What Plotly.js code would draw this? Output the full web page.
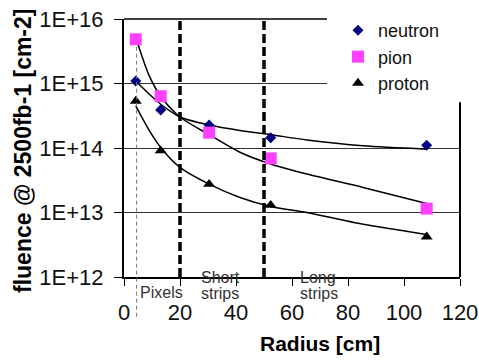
<!DOCTYPE html>
<html>
<head>
<meta charset="utf-8">
<script src="https://cdn.plot.ly/plotly-3.0.1.min.js"></script>
<style>html,body{margin:0;padding:0;background:#fff;}#chart{width:479px;height:362px;}</style>
</head>
<body>
<div id="chart"></div>
<script>
// measured data points
const radius = [4.2, 13.1, 30.4, 52.4, 108.1];
const neutron = [1.09e15, 3.9e14, 2.27e14, 1.44e14, 1.1e14];
const pion = [4.85e15, 6.35e14, 1.73e14, 6.9e13, 1.15e13];
const proton = [5.35e14, 9.1e13, 2.75e13, 1.3e13, 4.2e12];

// trend curves
const fitRadius = [4.2, 8.9, 13.1, 20, 30.4, 41.4, 52.4, 65.3, 85.4, 108.1];
const neutronFit = [1.09e15, 6.9e14, 4.77e14, 3.02e14, 2.27e14, 1.87e14, 1.61e14, 1.33e14, 1.08e14, 9.6e13];
const pionFit = [5.2e15, 1.35e15, 6.35e14, 3.02e14, 1.61e14, 8.6e13, 5.64e13, 3.94e13, 2.45e13, 1.38e13];
const protonFit = [4.5e14, 1.91e14, 1.02e14, 5.0e13, 2.75e13, 1.71e13, 1.24e13, 1.0e13, 6.55e12, 4.57e12];

// axis ticks
const xTicks = [0, 20, 40, 60, 80, 100, 120];
const yTickVals = [1e12, 1e13, 1e14, 1e15, 1e16];
const yTickText = ['1E+12', '1E+13', '1E+14', '1E+15', '1E+16'];

// region boundaries and labels
const regionBounds = [20, 50];
const innerRadius = 4.5;

const FONT = '"Liberation Sans", Arial, sans-serif';
const L = 124, R = 19, T = 17, B = 85, W = 479, H = 362;
const pw = W - L - R, ph = H - T - B;
const px = v => (v - L) / pw;          // pixel x -> paper
const py = v => (H - B - v) / ph;      // pixel y -> paper

const curveLine = {color: '#000', width: 1.5, shape: 'spline', smoothing: 0.8};
const traces = [
  {x: fitRadius, y: neutronFit, mode: 'lines', line: curveLine, showlegend: false, hoverinfo: 'skip'},
  {x: fitRadius, y: pionFit, mode: 'lines', line: curveLine, showlegend: false, hoverinfo: 'skip'},
  {x: fitRadius, y: protonFit, mode: 'lines', line: curveLine, showlegend: false, hoverinfo: 'skip'},
  {x: radius, y: neutron, name: 'neutron', mode: 'markers', marker: {symbol: 'diamond', size: 8.5, color: '#000080'}},
  {x: radius, y: pion, name: 'pion', mode: 'markers', marker: {symbol: 'square', size: 12, color: '#ff40ff'}},
  {x: radius, y: proton, name: 'proton', mode: 'markers', marker: {symbol: 'triangle-up', size: 10.5, color: '#000'}}
];

const shapes = [
  // cover under legend
  {type: 'rect', xref: 'paper', yref: 'paper', x0: px(327), x1: px(485), y0: py(101), y1: py(-5), fillcolor: '#fff', line: {width: 0}, layer: 'above'},
  // top frame
  {type: 'line', xref: 'paper', yref: 'paper', x0: 0, x1: px(327), y0: 1, y1: 1, line: {color: '#000', width: 1.5}},
  // right frame
  {type: 'line', xref: 'paper', yref: 'paper', x0: 1, x1: 1, y0: 0, y1: py(101), line: {color: '#000', width: 2}},
  // thin dashed at inner radius
  {type: 'line', xref: 'x', yref: 'paper', x0: innerRadius, x1: innerRadius, y0: py(317), y1: py(45), line: {color: '#777', width: 1, dash: '4px,3px'}}
];
regionBounds.forEach(b => shapes.push({type: 'line', xref: 'x', yref: 'paper', x0: b, x1: b, y0: 0, y1: 1,
  line: {color: '#000', width: 3.5, dash: '9px,4px'}}));

const lblFont = {family: FONT, size: 16, color: '#333'};
const annotations = [
  {text: 'Radius [cm]', xref: 'paper', yref: 'paper', x: px(320), y: py(344), xanchor: 'center', yanchor: 'middle', showarrow: false,
   font: {family: FONT, size: 21, color: '#000', weight: 'bold'}},
  {text: 'fluence @ 2500fb-1 [cm-2]', xref: 'paper', yref: 'paper', x: px(23), y: py(150), xanchor: 'center', yanchor: 'middle', textangle: -90, showarrow: false,
   font: {family: FONT, size: 23, color: '#000', weight: 'bold'}},
  {text: 'Pixels', xref: 'x', yref: 'paper', x: 4.9, y: py(292.5), xanchor: 'left', yanchor: 'middle', showarrow: false, font: lblFont},
  {text: 'Short', xref: 'x', yref: 'paper', x: 26.8, y: py(277.5), xanchor: 'left', yanchor: 'middle', showarrow: false, font: lblFont},
  {text: 'strips', xref: 'x', yref: 'paper', x: 26.8, y: py(294), xanchor: 'left', yanchor: 'middle', showarrow: false, font: lblFont},
  {text: 'Long', xref: 'x', yref: 'paper', x: 62.1, y: py(277.5), xanchor: 'left', yanchor: 'middle', showarrow: false, font: lblFont},
  {text: 'strips', xref: 'x', yref: 'paper', x: 62.1, y: py(294), xanchor: 'left', yanchor: 'middle', showarrow: false, font: lblFont}
];

const layout = {
  width: W, height: H,
  margin: {l: L, r: R, t: T, b: B, pad: 0},
  paper_bgcolor: '#fff', plot_bgcolor: '#fff',
  font: {family: FONT, size: 22, color: '#111'},
  showlegend: true,
  legend: {x: px(338), y: py(10), xanchor: 'left', yanchor: 'top', bgcolor: 'rgba(0,0,0,0)',
    font: {family: FONT, size: 18, color: '#111'}, itemwidth: 30, tracegroupgap: 0},
  xaxis: {range: [0, 120], tickvals: xTicks, ticks: 'outside', ticklen: 7, tickcolor: '#000', tickwidth: 1,
    showline: true, linecolor: '#000', linewidth: 2, showgrid: false, zeroline: false,
    tickfont: {family: FONT, size: 22, color: '#111'}, ticklabelstandoff: 8},
  yaxis: {type: 'log', range: [12, 16], tickvals: yTickVals, ticktext: yTickText, ticks: 'outside', ticklen: 8,
    tickcolor: '#000', tickwidth: 1, showline: true, linecolor: '#000', linewidth: 2,
    showgrid: true, gridcolor: '#333', gridwidth: 1, zeroline: false,
    tickfont: {family: FONT, size: 22, color: '#111'}, ticklabelstandoff: 6},
  shapes: shapes,
  annotations: annotations
};

Plotly.newPlot('chart', traces, layout, {staticPlot: true, displayModeBar: false});
</script>
</body>
</html>
